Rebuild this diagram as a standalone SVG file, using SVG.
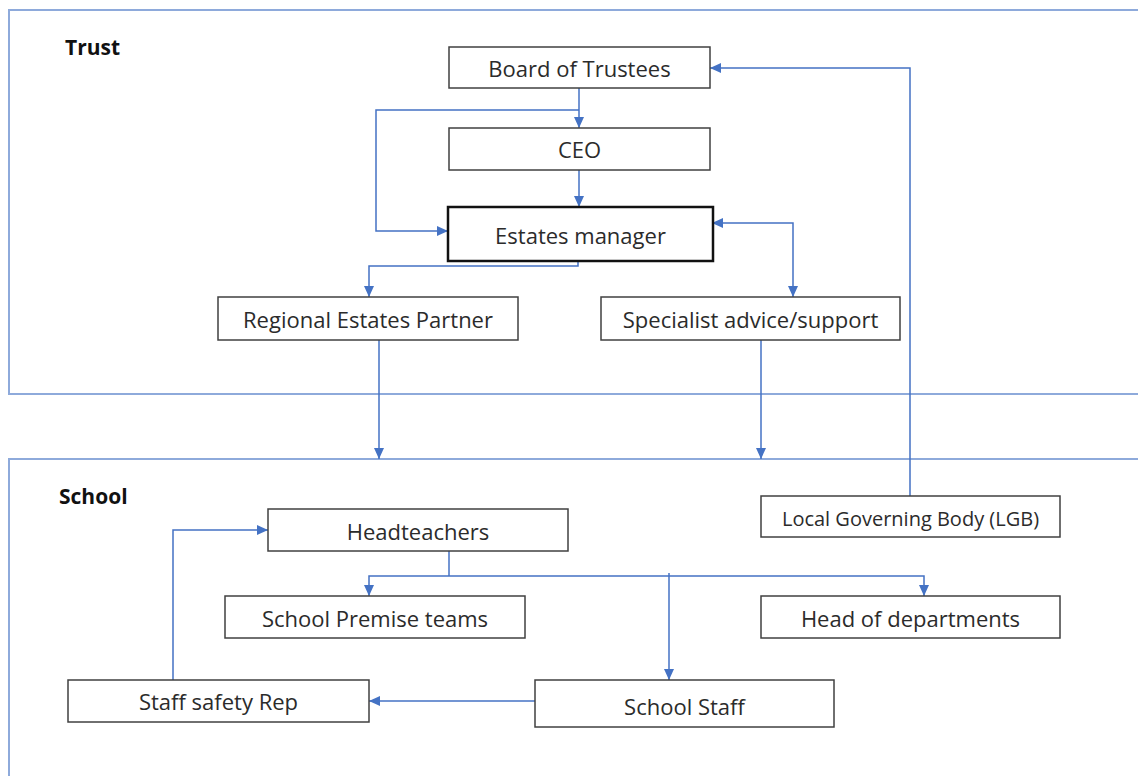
<svg xmlns="http://www.w3.org/2000/svg" width="1138" height="776" viewBox="0 0 1138 776">
<style>
.frame{fill:none;stroke:#8eaadb;stroke-width:2}
.box{fill:#fff;stroke:#404040;stroke-width:1.5}
.box2{fill:#fff;stroke:#111;stroke-width:2.5}
.lbl{font-family:"Open Sans","Liberation Sans",sans-serif;font-size:22px;fill:#2b2b2b;text-anchor:middle;dominant-baseline:central}
.sec{font-family:"Open Sans","Liberation Sans",sans-serif;font-size:21px;font-weight:bold;fill:#111}
.c{fill:none;stroke:#4472c4;stroke-width:1.5}
.ca{fill:none;stroke:#4472c4;stroke-width:1.5;marker-end:url(#ah)}
</style>
<defs>
<marker id="ah" markerUnits="userSpaceOnUse" markerWidth="12" markerHeight="12" viewBox="0 0 12 12" refX="11" refY="6" orient="auto">
<path d="M0,1 L11,6 L0,11 Z" fill="#4472c4"/>
</marker>
<marker id="as" markerUnits="userSpaceOnUse" markerWidth="12" markerHeight="12" viewBox="0 0 12 12" refX="1" refY="6" orient="auto">
<path d="M11,1 L0,6 L11,11 Z" fill="#4472c4"/>
</marker>
</defs>
<rect width="1138" height="776" fill="#fff"/>
<g id="frames">
<path class="frame" d="M1138,10 H9 V394 H1138"/>
<path class="frame" d="M1138,459 H9 V776"/>
<text class="sec" x="65" y="55">Trust</text>
<text class="sec" x="59" y="504">School</text>
</g>
<g id="connectors">
<path class="ca" d="M579,88 V128"/>
<path class="ca" d="M579,110 H376 V231 H448"/>
<path class="ca" d="M579,170 V207"/>
<path class="ca" d="M578,261 V266 H369 V297"/>
<path class="ca" d="M713,223 H793 V297" marker-start="url(#as)"/>
<path class="ca" d="M379,340 V459"/>
<path class="ca" d="M761,340 V459"/>
<path class="ca" d="M910,496 V68 H710"/>
<path class="c" d="M449,551 V576"/>
<path class="ca" d="M669,576 H369 V596"/>
<path class="ca" d="M669,576 H924 V596"/>
<path class="ca" d="M669,573 V680"/>
<path class="ca" d="M535,701 H369"/>
<path class="ca" d="M173,680 V530 H268"/>
</g>
<g id="board"><rect class="box" x="449" y="47" width="261" height="41"/><text class="lbl" x="579.5" y="68">Board of Trustees</text></g>
<g id="ceo"><rect class="box" x="449" y="128" width="261" height="42"/><text class="lbl" x="579.5" y="149">CEO</text></g>
<g id="estates"><rect class="box2" x="448" y="207" width="265" height="54"/><text class="lbl" x="580.5" y="235">Estates manager</text></g>
<g id="regional"><rect class="box" x="218" y="297" width="300" height="43"/><text class="lbl" x="368" y="319">Regional Estates Partner</text></g>
<g id="specialist"><rect class="box" x="601" y="297" width="299" height="43"/><text class="lbl" x="750.5" y="319">Specialist advice/support</text></g>
<g id="headteachers"><rect class="box" x="268" y="509" width="300" height="42"/><text class="lbl" x="418" y="531">Headteachers</text></g>
<g id="lgb"><rect class="box" x="761" y="496" width="299" height="41"/><text class="lbl" x="910.5" y="518" style="font-size:20px">Local Governing Body (LGB)</text></g>
<g id="premise"><rect class="box" x="225" y="596" width="300" height="42"/><text class="lbl" x="375" y="618">School Premise teams</text></g>
<g id="hods"><rect class="box" x="761" y="596" width="299" height="42"/><text class="lbl" x="910.5" y="618">Head of departments</text></g>
<g id="safetyrep"><rect class="box" x="68" y="680" width="301" height="42"/><text class="lbl" x="218.5" y="701">Staff safety Rep</text></g>
<g id="staff"><rect class="box" x="535" y="680" width="299" height="47"/><text class="lbl" x="684.5" y="706">School Staff</text></g>
</svg>
